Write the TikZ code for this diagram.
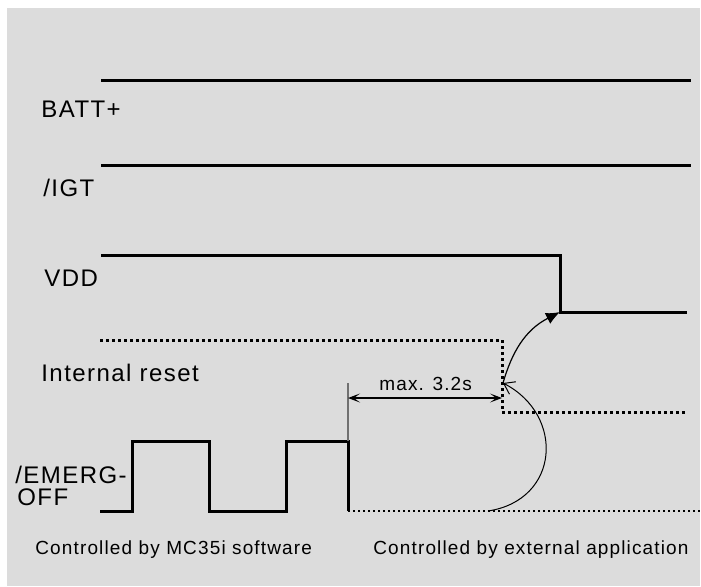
\documentclass[tikz,border=0pt]{standalone}
\usepackage{fontspec}
\setmainfont{Liberation Sans}[LetterSpace=6]
\usepackage{xcolor}
\usetikzlibrary{arrows.meta, positioning}

\definecolor{bggray}{HTML}{DCDCDC}
\definecolor{tickgray}{HTML}{707070}

\tikzset{
	sig/.style = {line width=1.5pt},
	rstsig/.style = {line width=1.5pt, dash pattern=on 1.5pt off 1.5pt},
	extsig/.style = {line width=1pt, dash pattern=on 1pt off 1.5pt},
	lbl/.style = {anchor=base west, inner sep=0pt, font=\fontsize{12}{14}\selectfont},
	note/.style = {anchor=base west, inner sep=0pt, font=\fontsize{9.5}{11}\selectfont},
}

\begin{document}
\begin{tikzpicture}[x=0.5pt, y=-0.5pt, > = {Stealth[length=6pt, inset=3pt]}]
			\useasboundingbox (0,0) rectangle (701,586);
			\fill [bggray] (7,8) rectangle (700,586);
			
			\draw [sig] (101,80) -- (691,80);
			\node [lbl] (batt) at (41,117) {BATT+};
			
			\draw [sig] (101,165) -- (691,165);
			\node [lbl] (igt) at (43,196) {/IGT};
			
			\draw [sig] (101,255) -- (560,255) -- (560,312) coordinate (vddedge) -- (687,312);
			\node [lbl] (vdd) at (44,286) {VDD};
			
			\draw [rstsig] (100,340) -- (502,340) -- (502,412) -- (687,412);
			\node [lbl] (rst) at (41,381) {Internal reset};
			\coordinate (rstedge) at (503,383);
			
			\draw [sig] (100,511) -- (132,511) -- (132,441) -- (209,441) -- (209,511)
			-- (286,511) -- (286,441) -- (348,441) -- (348,511);
			\draw [extsig] (348,511) -- (701,511);
			\node [lbl] (emerg) at (15,483) {/EMERG-};
			\node [lbl] (off) at (17,505) {OFF};
			\coordinate (extstart) at (488,511);
			
			\draw [tickgray, line width=0.6pt] (348,383) -- (348,441);
			\draw [<->, line width=0.6pt] (348,398) -- (502,398);
			\node [note] (maxt) at (379,390) {max. 3.2s};
			
			\draw [-{Latex[length=7pt, width=6pt]}, line width=0.6pt] (rstedge)
			.. controls (512,352) and (525,330) .. (vddedge);
			\draw [-{Straight Barb[length=5pt, width=7pt]}, line width=0.5pt] (extstart)
			.. controls (560,500) and (565,415) .. (rstedge);
			
			\node [note] (sw) at (35,554) {Controlled by MC35i software};
			\node [note] (app) at (373,554) {Controlled by external application};
		\end{tikzpicture}
\end{document}
